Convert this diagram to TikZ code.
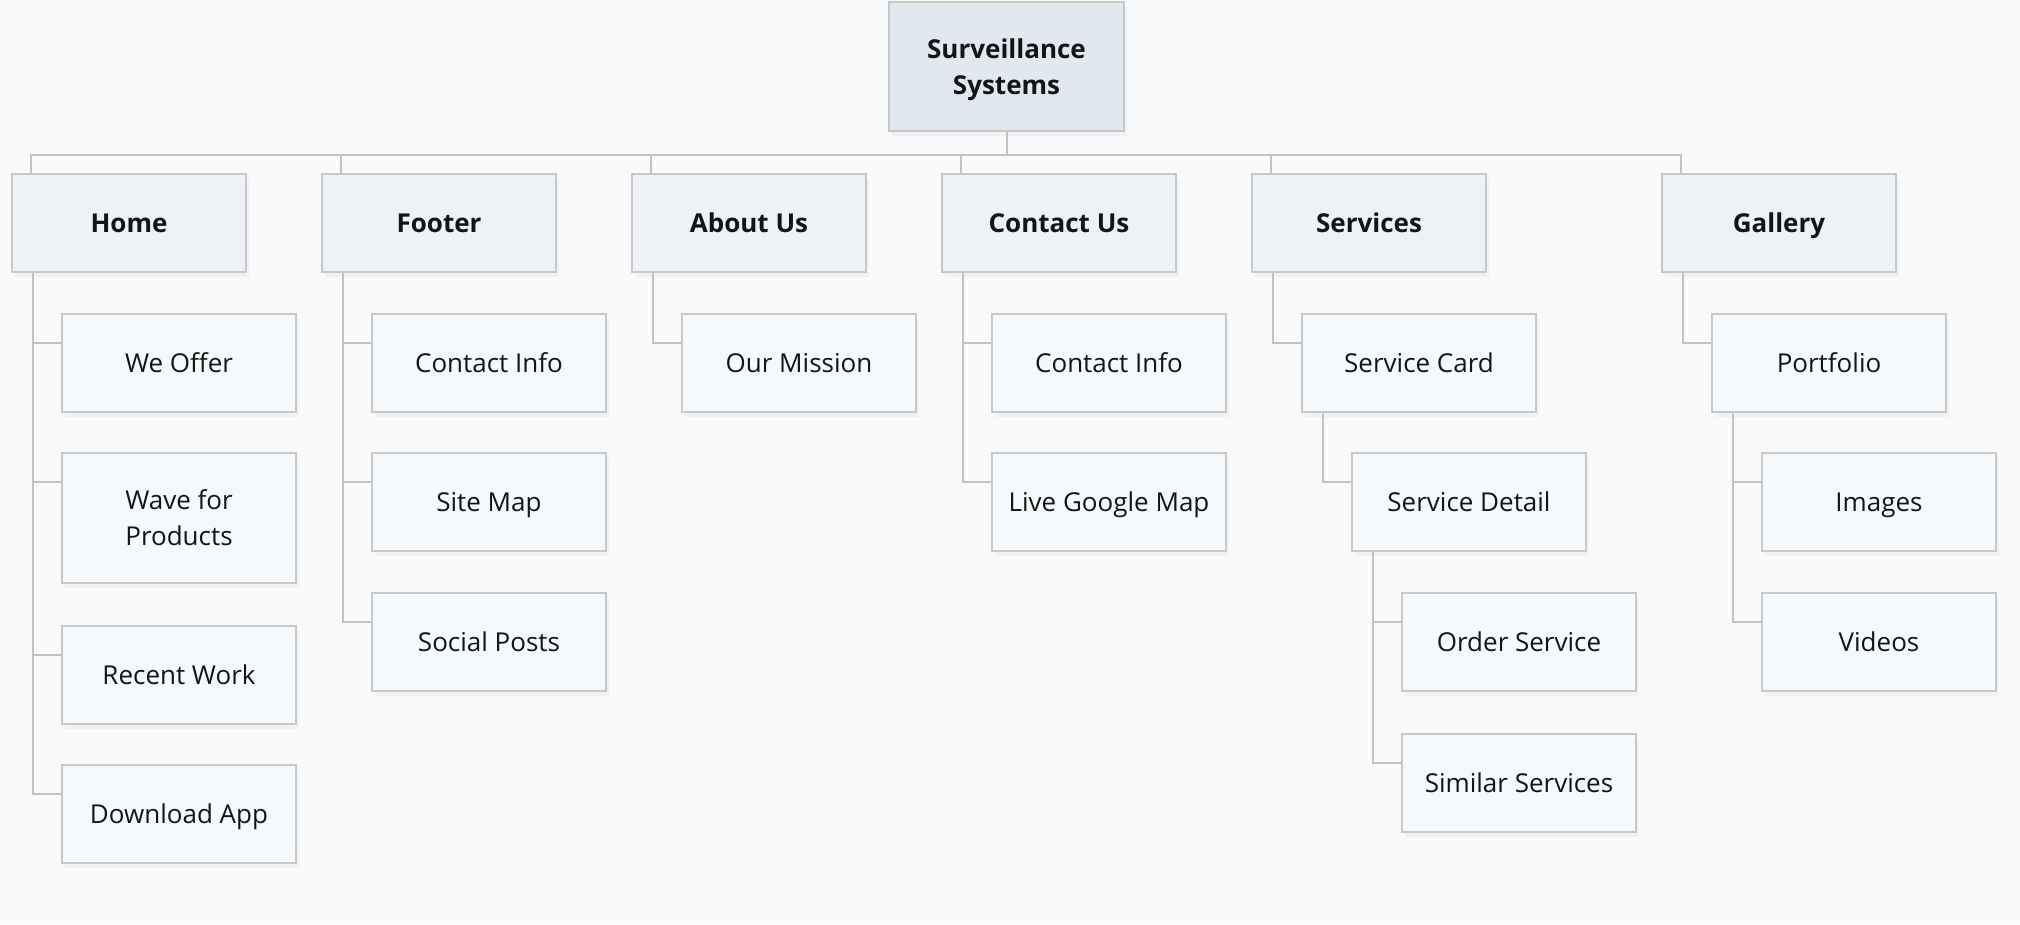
\documentclass[tikz,border=0pt]{standalone}
\usepackage{fontspec}
\setmainfont{Open Sans}
\usetikzlibrary{shadows}
\usetikzlibrary{positioning}
\usetikzlibrary{calc}

\definecolor{bgcol}{HTML}{F8FAFC}
\definecolor{rootfill}{HTML}{E2E8F0}
\definecolor{secfill}{HTML}{EEF2F6}
\definecolor{leaffill}{HTML}{F5F9FC}
\definecolor{edgecol}{HTML}{C8C8C8}
\definecolor{wirecol}{HTML}{C2C2C2}

\tikzset{
  box/.style={draw=edgecol, line width=2pt, anchor=north west, align=center,
    minimum width=234pt, minimum height=98pt, inner sep=0pt,
    font=\fontsize{26}{36}\selectfont, text=black!92,
    drop shadow={opacity=0.07, shadow xshift=3pt, shadow yshift=-5pt}},
  oneline/.style={text height=21.5pt, text depth=3.5pt},
  rootbox/.style={box, fill=rootfill, minimum width=235pt, minimum height=129pt, font=\fontsize{26}{36}\selectfont\bfseries},
  secbox/.style={box, oneline, fill=secfill, font=\fontsize{26}{36}\selectfont\bfseries},
  leafbox/.style={box, oneline, fill=leaffill},
  wire/.style={draw=wirecol, line width=2pt},
}

\begin{document}
\begin{tikzpicture}[x=1pt, y=-1pt]

  \fill[bgcol] (0,0) rectangle (2020,924);
  \useasboundingbox (0,0) rectangle (2020,924);

  \def\secy{173};

  % root
  \node[rootbox] (root) at (888,1) {\rule{0pt}{26pt}Surveillance\\Systems};

  % sections
  \foreach \name/\x/\txt in {home/11/Home, footer/321/Footer, about/631/About Us,
      contact/941/Contact Us, services/1251/Services, gallery/1661/Gallery} {
    \node[secbox] (\name) at (\x,\secy) {\txt};
    \draw[wire] (root.south) -- ++(0,23) -| ([xshift=20pt]\name.north west);
  }

  % pages
  \node[leafbox] (weoffer) at (61,313) {We Offer};
  \node[box, fill=leaffill, minimum height=130pt] (wave) at (61,452) {Wave for\\ Products};
  \node[leafbox] (recent) at (61,625) {Recent Work};
  \node[leafbox] (download) at (61,764) {Download App};

  \foreach \name/\parent/\x/\y/\txt in {
      finfo/footer/371/313/Contact Info, sitemap/footer/371/452/Site Map,
      social/footer/371/592/Social Posts,
      mission/about/681/313/Our Mission,
      cinfo/contact/991/313/Contact Info, gmap/contact/991/452/Live Google Map,
      card/services/1301/313/Service Card, detail/card/1351/452/Service Detail,
      order/detail/1401/592/Order Service, similar/detail/1401/733/Similar Services,
      portfolio/gallery/1711/313/Portfolio, images/portfolio/1761/452/Images,
      videos/portfolio/1761/592/Videos} {
    \node[leafbox] (\name) at (\x,\y) {\txt};
    \draw[wire] ([xshift=22pt]\parent.south west) |- ([yshift=-30pt]\name.north west);
  }

  \foreach \name in {weoffer, wave, recent, download}
    \draw[wire] ([xshift=22pt]home.south west) |- ([yshift=-30pt]\name.north west);

\end{tikzpicture}
\end{document}
